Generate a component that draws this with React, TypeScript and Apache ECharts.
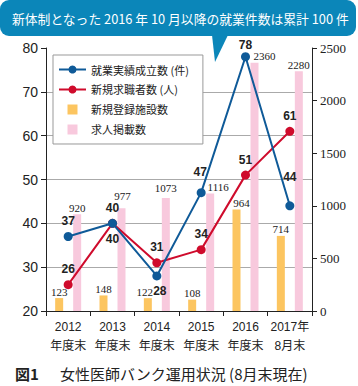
import React, { useEffect, useRef } from "react";
import * as echarts from "echarts";

const categories = ["2012\n年度末", "2013\n年度末", "2014\n年度末", "2015\n年度末", "2016\n年度末", "2017年\n8月末"];
const employmentCount = [37, 40, 28, 47, 78, 44];
const jobSeekers = [26, 40, 31, 34, 51, 61];
const newFacilities = [123, 148, 122, 108, 964, 714];
const jobPostings = [920, 977, 1073, 1116, 2360, 2280];

const seriesNames = ["就業実績成立数 (件)", "新規求職者数 (人)", "新規登録施設数", "求人掲載数"];
const titleText = "新体制となった 2016 年 10 月以降の就業件数は累計 100 件";
const captionNo = "図1";
const captionText = "女性医師バンク運用状況 (8月末現在)";

const BLUE = "#0f5a98";
const RED = "#cf0b2c";
const ORANGE = "#fcc560";
const PINK = "#f8c9dd";
const BUBBLE = "#0b86b9";

const SANS = "Liberation Sans, Arial, Noto Sans CJK JP, sans-serif";
const SERIF = "Liberation Serif, Times New Roman, serif";
const CJK = "Noto Sans CJK JP, Liberation Sans, sans-serif";

// label tweaks (index -> label override)
const blueLabelTweaks: Record<number, any> = {
  2: { position: "bottom", offset: [3, 0] },
  3: { offset: [-1, -5] },
  4: { offset: [0, 4] },
  5: { offset: [0, -13] },
};
const redLabelTweaks: Record<number, any> = {
  1: { position: "bottom" },
};
const orangeLabelTweaks: Record<number, any> = {
  2: { offset: [-3, 0] },
  4: { offset: [5, 0] },
};
const pinkLabelTweaks: Record<number, any> = {
  1: { offset: [1, -6] },
  2: { offset: [0, -4] },
  3: { offset: [8, 0] },
  4: { offset: [10, 0] },
};

function withLabels(values: number[], tweaks: Record<number, any>) {
  return values.map((v, i) => (tweaks[i] ? { value: v, label: tweaks[i] } : v));
}

export default function App() {
  const ref = useRef<HTMLDivElement>(null);
  useEffect(() => {
    if (!ref.current) return;
    const chart = echarts.init(ref.current, null, { renderer: "svg" });
    const lineLabel = {
      show: true,
      position: "top",
      color: "#222",
      fontSize: 12,
      fontWeight: "bold",
      fontFamily: SANS,
    };
    const barLabel = {
      show: true,
      position: "top",
      distance: 1,
      color: "#222",
      fontSize: 11,
      fontFamily: SERIF,
    };
    chart.setOption({
      animation: false,
      backgroundColor: "#fff",
      grid: { left: 46, right: 46, top: 48, bottom: 75, containLabel: false },
      legend: {
        orient: "vertical",
        left: 53,
        top: 55,
        padding: [9, 14, 9, 5],
        itemGap: 9,
        itemWidth: 27,
        itemHeight: 10,
        backgroundColor: "#fff",
        borderColor: "#999",
        borderWidth: 1,
        textStyle: { fontSize: 11, color: "#222", fontFamily: CJK },
        data: [
          { name: seriesNames[0] },
          { name: seriesNames[1] },
          { name: seriesNames[2], icon: "path://M0 0H10V10H0Z" },
          { name: seriesNames[3], icon: "path://M0 0H10V10H0Z" },
        ],
      },
      xAxis: {
        type: "category",
        data: categories,
        boundaryGap: true,
        axisLine: { lineStyle: { color: "#222", width: 1 } },
        axisTick: { show: true, length: 5, lineStyle: { color: "#222" } },
        axisLabel: {
          color: "#222",
          fontSize: 12,
          fontFamily: SANS,
          lineHeight: 19,
          margin: 6,
          interval: 0,
        },
      },
      yAxis: [
        {
          type: "value",
          min: 20,
          max: 80,
          interval: 10,
          axisLine: { show: true, lineStyle: { color: "#222" } },
          axisTick: { show: true, length: 5, lineStyle: { color: "#222" } },
          axisLabel: { color: "#222", fontSize: 14, fontFamily: SANS, margin: 8 },
          splitLine: { show: true, showMaxLine: false, lineStyle: { color: "#aaa", width: 1 } },
        },
        {
          type: "value",
          min: 0,
          max: 2500,
          interval: 500,
          position: "right",
          axisLine: { show: true, lineStyle: { color: "#222" } },
          axisTick: { show: true, length: 5, lineStyle: { color: "#222" } },
          axisLabel: {
            color: "#222",
            fontSize: 13,
            fontFamily: SERIF,
            margin: 8,
            formatter: (v: number) => String(v),
          },
          splitLine: { show: false },
        },
      ],
      series: [
        {
          name: seriesNames[2],
          type: "bar",
          yAxisIndex: 1,
          barWidth: 8,
          barGap: "125%",
          itemStyle: { color: ORANGE },
          label: barLabel,
          data: withLabels(newFacilities, orangeLabelTweaks),
          z: 2,
        },
        {
          name: seriesNames[3],
          type: "bar",
          yAxisIndex: 1,
          barWidth: 8,
          barGap: "125%",
          itemStyle: { color: PINK },
          label: barLabel,
          data: withLabels(jobPostings, pinkLabelTweaks),
          z: 2,
        },
        {
          name: seriesNames[0],
          type: "line",
          yAxisIndex: 0,
          symbol: "circle",
          symbolSize: 9,
          lineStyle: { color: BLUE, width: 2 },
          itemStyle: { color: BLUE },
          label: lineLabel,
          data: withLabels(employmentCount, blueLabelTweaks),
          z: 4,
        },
        {
          name: seriesNames[1],
          type: "line",
          yAxisIndex: 0,
          symbol: "circle",
          symbolSize: 9,
          lineStyle: { color: RED, width: 2 },
          itemStyle: { color: RED },
          label: lineLabel,
          data: withLabels(jobSeekers, redLabelTweaks),
          z: 3,
        },
      ],
      graphic: [
        {
          type: "rect",
          left: 0,
          top: 0,
          shape: { width: 356, height: 36, r: 9 },
          style: { fill: BUBBLE },
          z: 10,
        },
        {
          type: "polygon",
          shape: { points: [[212, 35], [228, 35], [215, 62]] },
          style: { fill: BUBBLE },
          z: 10,
        },
        {
          type: "text",
          x: 12,
          y: 18,
          style: {
            text: titleText,
            fill: "#fff",
            fontSize: 12.8,
            fontFamily: CJK,
            verticalAlign: "middle",
          },
          z: 11,
        },
        {
          type: "text",
          x: 15,
          y: 373,
          style: {
            text: captionNo,
            fill: "#222",
            fontSize: 15,
            fontWeight: "bold",
            fontFamily: CJK,
            verticalAlign: "middle",
          },
          z: 11,
        },
        {
          type: "text",
          x: 60,
          y: 373,
          style: {
            text: captionText,
            fill: "#222",
            fontSize: 15,
            fontFamily: CJK,
            verticalAlign: "middle",
          },
          z: 11,
        },
      ],
    });
    return () => chart.dispose();
  }, []);
  return (
    <div
      ref={ref}
      style={{ position: "fixed", left: 0, top: 0, width: 358, height: 386 }}
    />
  );
}
